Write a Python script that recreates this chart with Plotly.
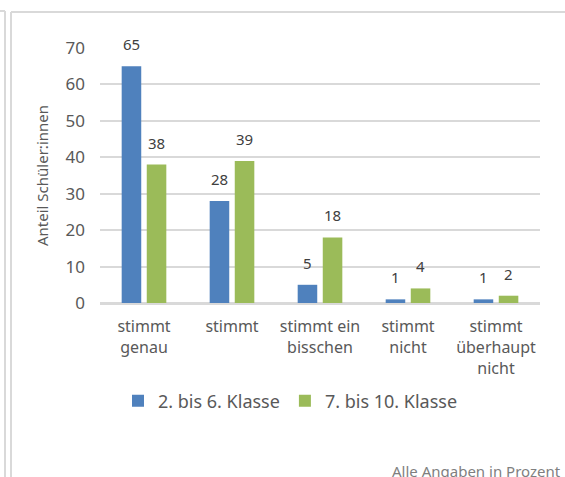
import plotly.graph_objects as go

categories = ["stimmt<br>genau", "stimmt", "stimmt ein<br>bisschen", "stimmt<br>nicht", "stimmt<br>überhaupt<br>nicht"]
series_names = ["2. bis 6. Klasse", "7. bis 10. Klasse"]
values_2_6 = [65, 28, 5, 1, 1]
values_7_10 = [38, 39, 18, 4, 2]
y_ticks = [0, 10, 20, 30, 40, 50, 60, 70]

W, H = 565, 477
ML, MR, MT, MB = 100, 25, 48, 174
PW = W - ML - MR
PH = H - MT - MB

def px(x):
    return (x - ML) / PW

def py(y):
    return (H - MB - y) / PH

FONT = "Noto Sans, Open Sans, sans-serif"
GRAY = "#595959"

fig = go.Figure()
colors = ["#4f81bd", "#9bbb59"]
for name, vals, c in zip(series_names, [values_2_6, values_7_10], colors):
    fig.add_trace(go.Bar(
        x=categories, y=vals, name=name, marker=dict(color=c, line=dict(width=0)),
        cliponaxis=False,
    ))

annotations = []
for vals, shift in zip([values_2_6, values_7_10], [-12.7, 12.7]):
    for cat, v in zip(categories, vals):
        annotations.append(dict(
            x=cat, y=v, xref="x", yref="y", text=str(v), showarrow=False,
            xshift=shift, yanchor="bottom", yshift=10,
            font=dict(size=15, color="#404040", family=FONT),
        ))
annotations.append(dict(
    text="Alle Angaben in Prozent", xref="paper", yref="paper", x=px(563), y=py(471),
    xanchor="right", yanchor="middle", showarrow=False,
    font=dict(size=15, color="#7f7f7f", family=FONT),
))

frame = "#d9d9d9"
shapes = [
    dict(type="line", xref="paper", yref="paper", x0=px(0), x1=px(5), y0=py(11), y1=py(11), line=dict(color=frame, width=2)),
    dict(type="line", xref="paper", yref="paper", x0=px(5), x1=px(5), y0=py(11), y1=py(477), line=dict(color=frame, width=2)),
    dict(type="line", xref="paper", yref="paper", x0=px(11), x1=px(11), y0=py(12), y1=py(477), line=dict(color=frame, width=2)),
    dict(type="line", xref="paper", yref="paper", x0=px(11), x1=px(565), y0=py(12), y1=py(12), line=dict(color=frame, width=2)),
]

fig.update_layout(
    width=W, height=H,
    margin=dict(l=ML, r=MR, t=MT, b=MB, pad=0),
    paper_bgcolor="white", plot_bgcolor="white",
    barmode="group", bargap=0.43, bargroupgap=0.22,
    font=dict(family=FONT, color=GRAY, size=16),
    showlegend=True,
    legend=dict(orientation="h", x=px(118), xanchor="left", y=py(401), yanchor="middle",
                font=dict(size=18, color=GRAY, family=FONT), itemwidth=30, traceorder="normal",
                itemclick=False),
    shapes=shapes,
    annotations=annotations,
)
fig.update_yaxes(
    range=[0, 70], tickvals=y_ticks, showgrid=True, gridcolor="#d9d9d9", gridwidth=1.5,
    zeroline=True, zerolinecolor="#d9d9d9", zerolinewidth=1.5,
    ticks="", ticklen=0, tickfont=dict(size=17, color=GRAY), ticklabelstandoff=14,
    title=dict(text="Anteil Schüler:innen", font=dict(size=15, color=GRAY), standoff=13),
)
fig.update_xaxes(
    showline=True, linecolor="#d9d9d9", linewidth=1.5, ticks="",
    tickfont=dict(size=16, color=GRAY), tickangle=0, ticklabelstandoff=8,
)

fig.write_html("out.html", post_script="document.body.style.margin='0';",
               config={"displayModeBar": False})
